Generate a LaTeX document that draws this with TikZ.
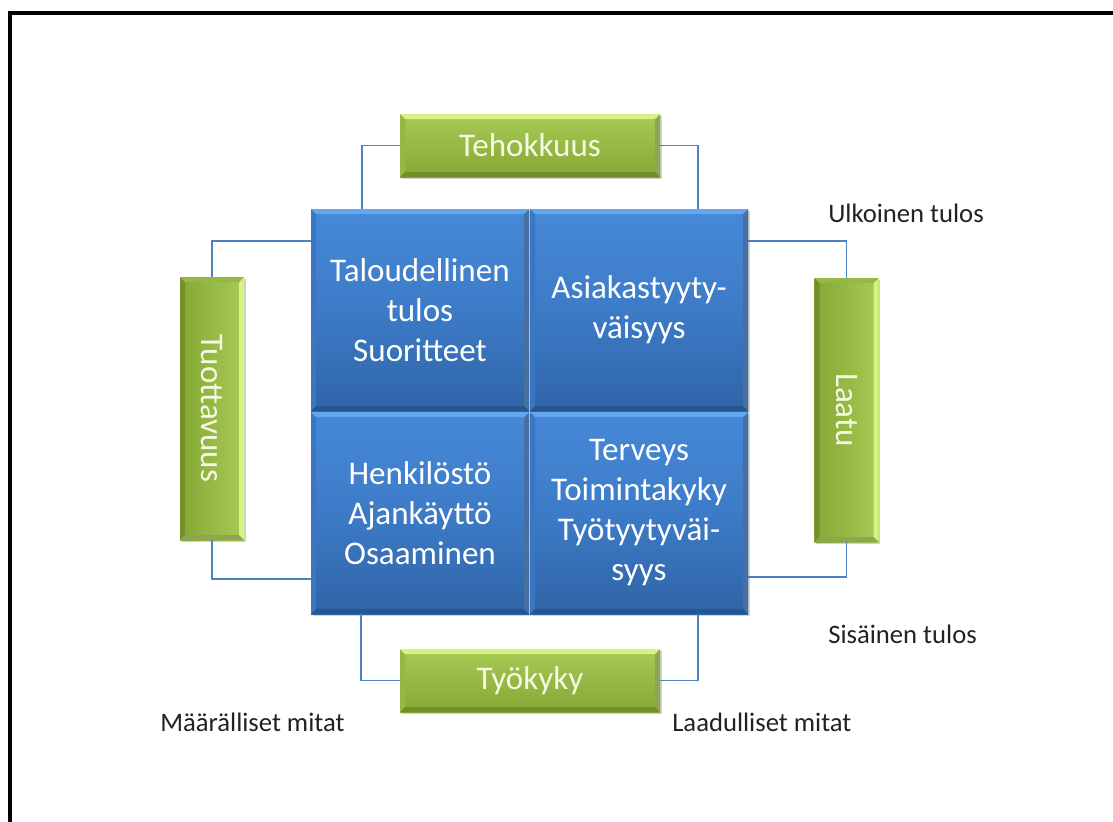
\documentclass[tikz,border=0pt]{standalone}
\usepackage{fontspec}
\setmainfont{Carlito}
\usetikzlibrary{calc,shadows}

\definecolor{bluetop}{HTML}{4689D8}
\definecolor{bluemid}{HTML}{3D7BC7}
\definecolor{bluebot}{HTML}{2F64A7}
\definecolor{bluehi}{HTML}{66A6F0}
\definecolor{blueside}{HTML}{3A76C2}
\definecolor{bluedark}{HTML}{27568F}
\definecolor{greentop}{HTML}{A7CA55}
\definecolor{greenbot}{HTML}{86A734}
\definecolor{greenhi}{HTML}{D6F184}
\definecolor{greenside}{HTML}{95B842}
\definecolor{greendark}{HTML}{728F28}
\definecolor{linkblue}{HTML}{4F81BD}
\definecolor{greentext}{HTML}{F5F8E4}
\definecolor{labeltext}{HTML}{222222}

% bevel: #1 inset, #2 top, #3 right, #4 bottom, #5 left
\newcommand\bevelfaces[5]{%
  \path (path picture bounding box.north west) coordinate (pnw)
        (path picture bounding box.north east) coordinate (pne)
        (path picture bounding box.south east) coordinate (pse)
        (path picture bounding box.south west) coordinate (psw);
  \fill[#5] (pnw) -- ($(pnw)+(#1,#1)$) -- ($(psw)+(#1,-#1)$) -- (psw) -- cycle;
  \fill[#3] (pne) -- ($(pne)+(-#1,#1)$) -- ($(pse)+(-#1,-#1)$) -- (pse) -- cycle;
  \fill[#4] (psw) -- ($(psw)+(#1,-#1)$) -- ($(pse)+(-#1,-#1)$) -- (pse) -- cycle;
  \fill[#2] (pnw) -- ($(pnw)+(#1,#1)$) -- ($(pne)+(-#1,#1)$) -- (pne) -- cycle;
}

\tikzset{
  boxshadow/.style={drop shadow={opacity=0.35, shadow xshift=1.2pt, shadow yshift=-1.8pt}},
  quad/.style={rectangle, inner sep=0pt, minimum width=218*0.75pt,
    minimum height=202*0.75pt, align=center, text=white,
    font=\fontsize{24.8pt}{30pt}\selectfont,
    top color=bluetop, bottom color=bluebot, middle color=bluemid,
    boxshadow,
    path picture={\bevelfaces{5}{bluehi}{bluedark!85}{bluedark}{blueside}}},
  hmeasure/.style={rectangle, inner sep=0pt, minimum width=260*0.75pt,
    minimum height=63*0.75pt,
    text=greentext, font=\fontsize{24.8pt}{30pt}\selectfont,
    top color=greentop, bottom color=greenbot, boxshadow,
    path picture={\bevelfaces{5}{greenhi}{greendark!80}{greendark}{greenside}}},
  vmeasure/.style={rectangle, inner sep=0pt, minimum width=64*0.75pt,
    text=greentext, font=\fontsize{24.8pt}{30pt}\selectfont,
    left color=greenbot, right color=greentop, boxshadow,
    path picture={\bevelfaces{5}{greenside}{greenhi}{greendark!80}{greendark}}},
  link/.style={draw=linkblue, line width=1.2pt},
  note/.style={text=labeltext, font=\fontsize{20pt}{24pt}\selectfont, inner sep=0pt},
}

\begin{document}
\begin{tikzpicture}[x=0.75pt, y=-0.75pt]
  \useasboundingbox (0,0) rectangle (1113,821);
  \fill[white] (0,0) rectangle (1113,821);
  \begin{scope}
    \clip (0,0) rectangle (1113,821);
    \draw[line width=3pt] (10.4,840) -- (10.4,12.7) -- (1130,12.7);
  \end{scope}

  % four result quadrants
  \node[quad] (tl) at (420,310) {Taloudellinen\\tulos\\Suoritteet};
  \node[quad] (tr) at (639,310) {Asiakastyyty-\\väisyys};
  \node[quad] (bl) at (420,513) {Henkilöstö\\Ajankäyttö\\Osaaminen};
  \node[quad] (br) at (639,513) {Terveys\\Toimintakyky\\Työtyytyväi-\\syys};

  % measures around the quadrants
  \node[hmeasure] (teh) at (530,145.5) {Tehokkuus};
  \node[hmeasure] (tyo) at (530,680.5) {Työkyky};
  \node[vmeasure, minimum height=263*0.75pt] (tuo) at (212,408.5) {\rotatebox{-90}{Tuottavuus}};
  \node[vmeasure, minimum height=264*0.75pt] (laa) at (846.5,410) {\rotatebox{-90}{Laatu}};

  % connectors
  \draw[link] (teh.west) -- ++(-38,0) coordinate (c1) -- (c1 |- tl.north);
  \draw[link] (teh.east) -- ++(38,0) coordinate (c2) -- (c2 |- tr.north);
  \draw[link] (tyo.west) -- ++(-39,0) coordinate (c3) -- (c3 |- bl.south);
  \draw[link] (tyo.east) -- ++(38,0) coordinate (c4) -- (c4 |- br.south);
  \draw[link] (tuo.north) -- ++(0,-36) coordinate (c5) -- (c5 -| tl.west);
  \draw[link] (tuo.south) -- ++(0,39) coordinate (c6) -- (c6 -| bl.west);
  \draw[link] (laa.north) -- ++(0,-37) coordinate (c7) -- (c7 -| tr.east);
  \draw[link] (laa.south) -- ++(0,35) coordinate (c8) -- (c8 -| br.east);

  % axis labels
  \node[note, anchor=base west] (ulk) at (828,222) {Ulkoinen tulos};
  \node[note, anchor=base west] (sis) at (828,643) {Sisäinen tulos};
  \node[note, anchor=base west] (maa) at (160,731) {Määrälliset mitat};
  \node[note, anchor=base west] (laad) at (672,731) {Laadulliset mitat};
\end{tikzpicture}
\end{document}
